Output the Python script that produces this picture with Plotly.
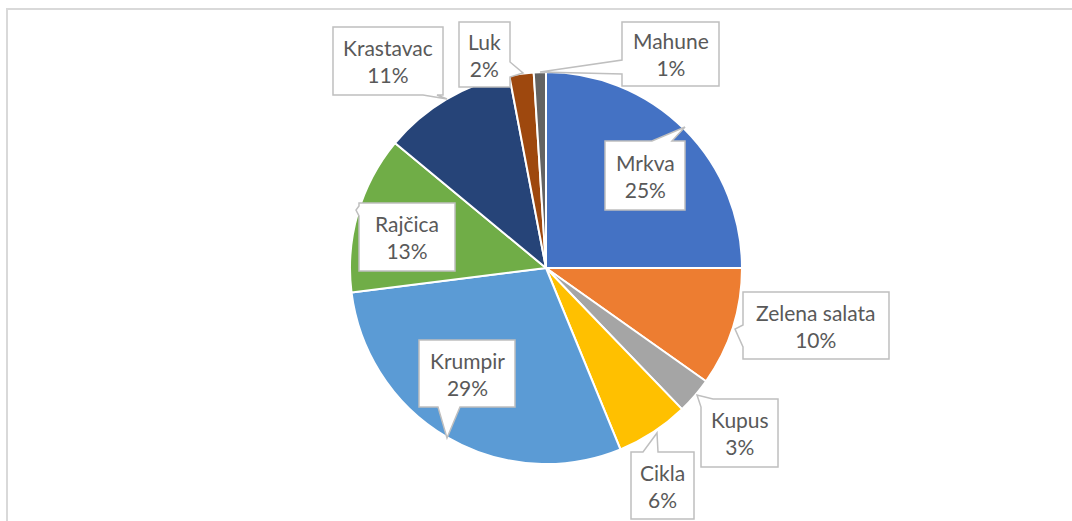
import plotly.graph_objects as go

W, H = 1072, 521

# ---- data ----
categories = ["Mrkva", "Zelena salata", "Kupus", "Cikla", "Krumpir",
              "Rajčica", "Krastavac", "Luk", "Mahune"]
values = [25, 9.8, 3, 6, 29.2, 13, 11, 2, 1]
percent_labels = ["25%", "10%", "3%", "6%", "29%", "13%", "11%", "2%", "1%"]
colors = ["#4472C4", "#ED7D31", "#A5A5A5", "#FFC000", "#5B9BD5",
          "#70AD47", "#264478", "#9E480E", "#636363"]

# ---- callout geometry (pixels): box and pointer polygon ----
callout_boxes = {
    "Mrkva": (605, 141, 685, 210),
    "Zelena salata": (743, 292, 889, 359),
    "Kupus": (701, 399, 778, 467),
    "Cikla": (631, 452, 694, 519),
    "Krumpir": (419, 340, 515, 407),
    "Rajčica": (359, 203, 455, 271),
    "Krastavac": (333, 27, 443, 95),
    "Luk": (459, 22, 510, 87),
    "Mahune": (622, 22, 719, 86),
}
callout_polys = {
    "Mrkva": [(605, 141), (652, 141), (685, 127), (672, 141), (685, 141), (685, 210), (605, 210)],
    "Zelena salata": [(743, 292), (889, 292), (889, 359), (743, 359), (743, 347), (735, 329), (743, 325)],
    "Kupus": [(713, 399), (778, 399), (778, 467), (701, 467), (701, 407), (697, 395)],
    "Cikla": [(631, 452), (643, 452), (657, 433), (658, 452), (694, 452), (694, 519), (631, 519)],
    "Krumpir": [(419, 340), (515, 340), (515, 407), (460, 407), (447, 438), (438, 407), (419, 407)],
    "Rajčica": [(359, 203), (455, 203), (455, 271), (359, 271), (359, 216), (356, 210), (359, 206)],
    "Krastavac": [(333, 27), (443, 27), (443, 95), (437, 95), (447, 99), (423, 95), (333, 95)],
    "Luk": [(459, 22), (510, 22), (510, 62), (523, 73), (510, 77), (510, 87), (459, 87)],
    "Mahune": [(622, 22), (719, 22), (719, 86), (622, 86), (622, 74), (540, 72), (622, 60)],
}


def px(x):
    return x / W


def py(y):
    return 1 - y / H


cx, cy, r = 546, 268, 196

fig = go.Figure(go.Pie(
    labels=categories,
    values=values,
    sort=False,
    direction="clockwise",
    rotation=0,
    marker=dict(colors=colors, line=dict(color="white", width=2)),
    textinfo="none",
    hoverinfo="label+percent",
    showlegend=False,
    domain=dict(x=[px(cx - r), px(cx + r)], y=[py(cy + r), py(cy - r)]),
))

shapes = [dict(type="rect", xref="paper", yref="paper",
               x0=px(7), y0=py(9), x1=px(1085), y1=py(540),
               line=dict(color="#D9D9D9", width=2), fillcolor="rgba(0,0,0,0)")]
annotations = []
for cat, pct in zip(categories, percent_labels):
    poly = callout_polys[cat]
    path = "M " + " L ".join(f"{px(x):.5f},{py(y):.5f}" for x, y in poly) + " Z"
    shapes.append(dict(type="path", xref="paper", yref="paper", path=path,
                       fillcolor="white", line=dict(color="#BFBFBF", width=1.5)))
    x0, y0, x1, y1 = callout_boxes[cat]
    annotations.append(dict(
        x=px((x0 + x1) / 2), y=py((y0 + y1) / 2), xref="paper", yref="paper",
        text=f"{cat}<br>{pct}", showarrow=False, xanchor="center", yanchor="middle",
        font=dict(family="Lato", size=21, color="#595959"), align="center"))

fig.update_layout(
    width=W, height=H,
    margin=dict(l=0, r=0, t=0, b=0),
    paper_bgcolor="white", plot_bgcolor="white",
    shapes=shapes, annotations=annotations,
)

fig.write_html("out.html", config={"displayModeBar": False},
               post_script="document.body.style.margin='0';")
